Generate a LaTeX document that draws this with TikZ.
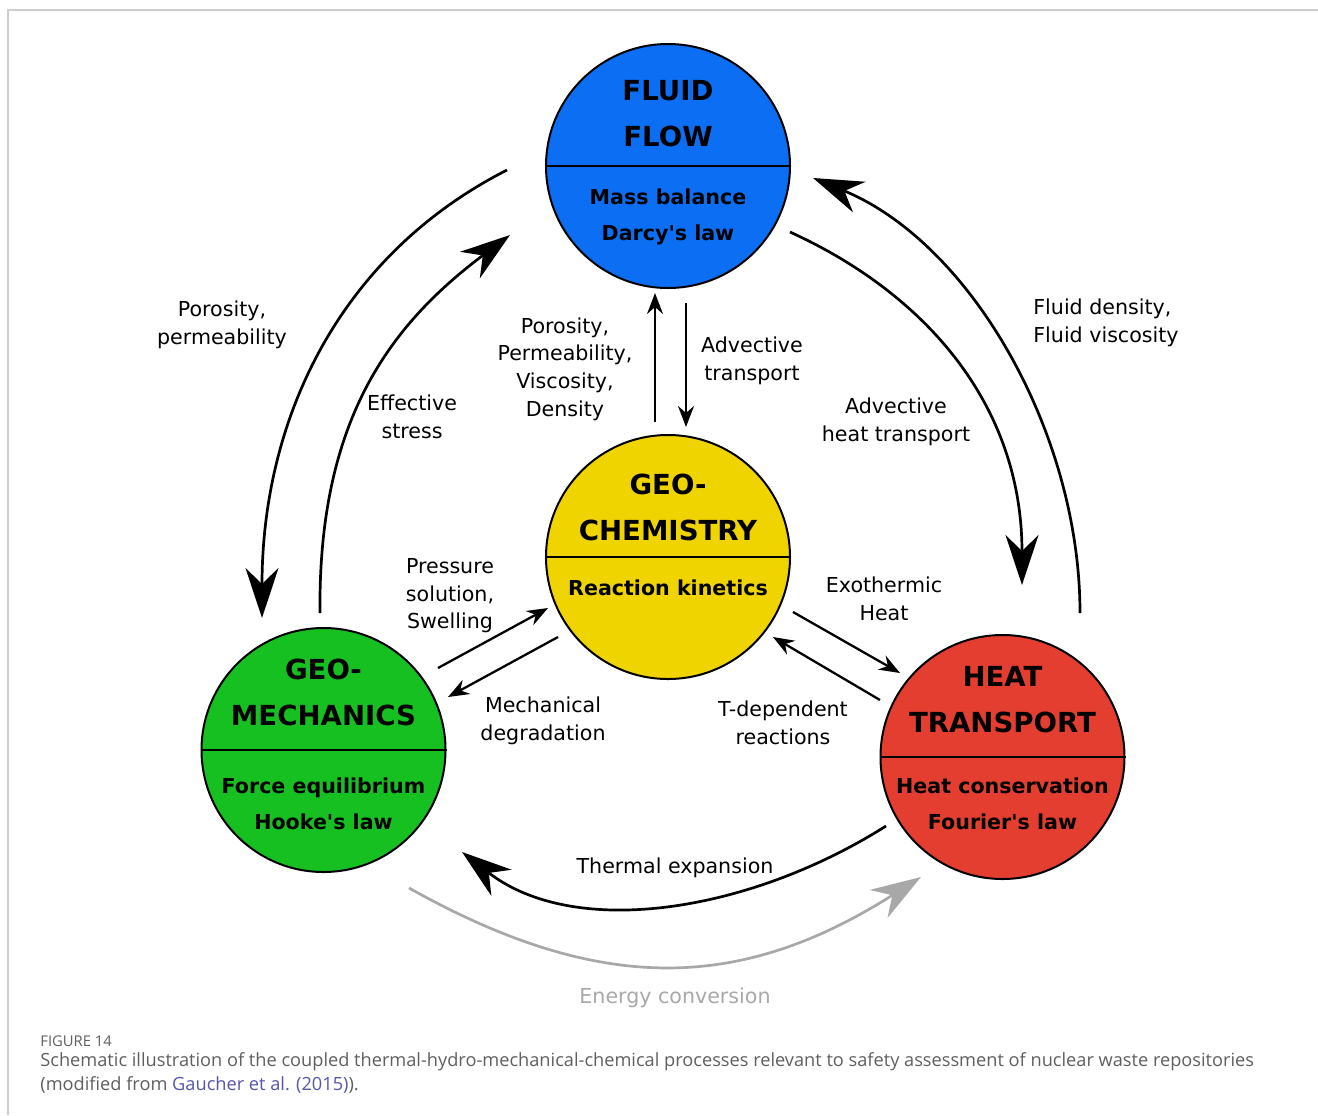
\documentclass[tikz,border=0pt]{standalone}
\usepackage{fontspec}
\setmainfont{DejaVu Sans}
\newfontfamily\capfont{Open Sans}
\usetikzlibrary{arrows.meta}
\definecolor{flowblue}{RGB}{12,110,242}
\definecolor{chemyellow}{RGB}{240,212,0}
\definecolor{mechgreen}{RGB}{22,192,32}
\definecolor{heatred}{RGB}{228,62,48}
\definecolor{energygrey}{RGB}{168,168,168}
\definecolor{framegrey}{RGB}{205,205,205}
\definecolor{capgrey}{RGB}{95,95,95}
\definecolor{linkblue}{RGB}{85,85,175}
\tikzstyle{proc}=[circle, draw, line width=1pt, minimum size=122pt, inner sep=0pt]
\tikzstyle{divider}=[line width=1pt]
\tikzstyle{title}=[font=\bfseries\fontsize{13.8}{23}\selectfont, align=center]
\tikzstyle{subtitle}=[font=\bfseries\fontsize{10.3}{18.3}\selectfont, align=center]
\tikzstyle{lbl}=[font=\fontsize{10.3}{13.8}\selectfont, align=center]
\tikzstyle{bigarrow}=[line width=1.35pt, -{Stealth[length=25pt,width=16.5pt,inset=8pt]}]
\tikzstyle{smallarrow}=[line width=1.15pt, -{Stealth[length=10.5pt,width=8pt,inset=3.5pt]}]
\tikzstyle{captext}=[font=\capfont\fontsize{9.1}{12}\selectfont, text=capgrey, anchor=base west, inner sep=0pt]

\begin{document}
\begin{tikzpicture}[x=0.5pt, y=-0.5pt]
  \useasboundingbox (0,0) rectangle (1318,1115);
  \draw[framegrey, line width=1pt] (8,1115) -- (8,10) -- (1318,10);
  \begin{scope}
    \node (flow) at (668,166) [proc, fill=flowblue] {};
    \node (chem) at (668,557) [proc, fill=chemyellow] {};
    \node (mech) at (323.5,750) [proc, fill=mechgreen] {};
    \node (heat) at (1002.5,757) [proc, fill=heatred] {};
    \draw[divider] (flow.west) -- (flow.east);
    \draw[divider] (chem.west) -- (chem.east);
    \draw[divider] (mech.west) -- (mech.east);
    \draw[divider] (heat.west) -- (heat.east);

    \node (tflow) at (668,113.5) [title] {FLUID\\FLOW};
    \node (sflow) at (668,217) [subtitle] {Mass balance\\Darcy\textquotesingle s law};
    \node (tchem) at (668,507.5) [title] {GEO-\\CHEMISTRY};
    \node (schem) at (668,588) [subtitle] {Reaction kinetics};
    \node (tmech) at (323.5,692) [title] {GEO-\\MECHANICS};
    \node (smech) at (323.5,804) [subtitle] {Force equilibrium\\Hooke\textquotesingle s law};
    \node (theat) at (1002.5,700) [title] {HEAT\\TRANSPORT};
    \node (sheat) at (1002.5,804) [subtitle] {Heat conservation\\Fourier\textquotesingle s law};

    \node (lporo) at (222,325) [lbl] {Porosity,\\permeability};
    \node (lstress) at (412,417) [lbl] {Effective\\stress};
    \node (lprop) at (565,369) [lbl] {Porosity,\\Permeability,\\Viscosity,\\Density};
    \node (ladv) at (752,361) [lbl] {Advective\\transport};
    \node (ldens) at (1106,323) [lbl, align=left] {Fluid density,\\Fluid viscosity};
    \node (lheat) at (896,422) [lbl] {Advective\\heat transport};
    \node (lpress) at (450,596) [lbl] {Pressure\\solution,\\Swelling};
    \node (lexo) at (884,599) [lbl] {Exothermic\\Heat};
    \node (ldegr) at (543,721) [lbl] {Mechanical\\degradation};
    \node (ltdep) at (783,723) [lbl] {T-dependent\\reactions};
    \node (ltherm) at (675,868) [lbl] {Thermal expansion};
    \node (lenergy) at (675,998) [lbl, text=energygrey] {Energy conversion};

    \coordinate (a1) at (507,170);  \coordinate (a2) at (262,618);
    \coordinate (b1) at (320,613);  \coordinate (b2) at (510,235);
    \coordinate (c1) at (1080,613); \coordinate (c2) at (813,178);
    \coordinate (d1) at (790,232);  \coordinate (d2) at (1022,585);
    \coordinate (e1) at (886,826);  \coordinate (e2) at (462,852);
    \coordinate (f1) at (409,888);  \coordinate (f2) at (921,877);
    \coordinate (g1) at (655,422);  \coordinate (g2) at (655,293);
    \coordinate (h1) at (686,303);  \coordinate (h2) at (686,427);
    \coordinate (i1) at (438,668);  \coordinate (i2) at (548,608);
    \coordinate (j1) at (558,637);  \coordinate (j2) at (448,697);
    \coordinate (k1) at (793,612);  \coordinate (k2) at (900,673);
    \coordinate (l1) at (880,700);  \coordinate (l2) at (773,637);
  \end{scope}
  \begin{scope}
    \draw[bigarrow] (a1) .. controls (340,255) and (262,418) .. (a2);
    \draw[bigarrow] (b1) .. controls (318,420) and (390,325) .. (b2);
    \draw[bigarrow] (c1) .. controls (1080,433) and (971,243) .. (c2);
    \draw[bigarrow] (d1) .. controls (926,294) and (1022,405) .. (d2);
    \draw[bigarrow] (e1) .. controls (750,912) and (575,940) .. (e2);
    \draw[bigarrow, energygrey] (f1) .. controls (600,995) and (740,992) .. (f2);

    \path [smallarrow] (g1) edge (g2);
    \path [smallarrow] (h1) edge (h2);
    \path [smallarrow] (i1) edge (i2);
    \path [smallarrow] (j1) edge (j2);
    \path [smallarrow] (k1) edge (k2);
    \path [smallarrow] (l1) edge (l2);
  \end{scope}

  \node (fignum) at (40,1046) [captext, font=\capfont\fontsize{7.4}{9}\selectfont] {FIGURE 14};
  \node (cap1) at (40,1066) [captext] {Schematic illustration of the coupled thermal-hydro-mechanical-chemical processes relevant to safety assessment of nuclear waste repositories};
  \node (cap2) at (40,1090) [captext] {(modified from {\color{linkblue}Gaucher et al. (2015)}).};
\end{tikzpicture}
\end{document}
